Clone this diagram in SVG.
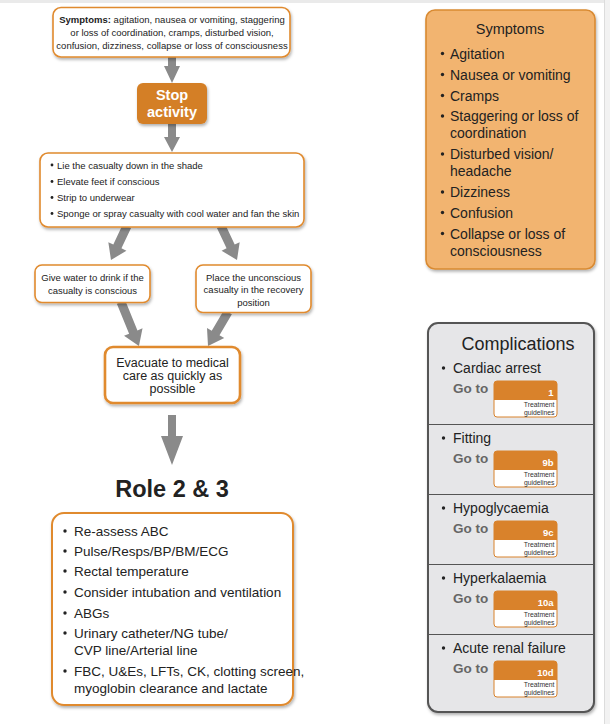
<svg xmlns="http://www.w3.org/2000/svg" width="610" height="724" viewBox="0 0 610 724">
<defs>
<style>
text{font-family:"Liberation Sans",Arial,sans-serif;fill:#222}
.box{fill:#fff;stroke:#e08a2e;stroke-width:1.6}
.s9{font-size:9.5px}
.mid{text-anchor:middle}
.arr{fill:#8a8a8a}
.b14{font-size:14px}
.go{font-size:13.5px;font-weight:bold;fill:#666}
.num{font-size:9.5px;font-weight:bold;fill:#fff;text-anchor:end}
.tg{font-size:6.8px;text-anchor:end;fill:#333}
.div{stroke:#555;stroke-width:1.2}
</style>
<filter id="sh" x="-10%" y="-10%" width="120%" height="130%">
<feDropShadow dx="1" dy="2" stdDeviation="1.5" flood-color="#000" flood-opacity="0.3"/>
</filter>
<g id="badge">
<rect x="494" y="381" width="63" height="36" rx="3" fill="#fff" stroke="#d9822b" stroke-width="1"/>
<path d="M494,400 V384 a3,3 0 0 1 3,-3 H554 a3,3 0 0 1 3,3 V400 Z" fill="#d9822b"/>
<text class="tg" x="554.5" y="407">Treatment</text>
<text class="tg" x="554.5" y="414.5">guidelines</text>
</g>
</defs>
<rect width="610" height="724" fill="#fff"/>
<rect x="0" y="0" width="610" height="3" fill="#eaeaea"/>
<rect x="604" y="0" width="6" height="724" fill="#f2f2f2"/>
<line x1="604.5" y1="0" x2="604.5" y2="724" stroke="#dcdcdc"/>

<g id="connectors">
<polygon class="arr" points="168,57 176,57 176,66 180,66 172,83 164,66 168,66"/>
<polygon class="arr" points="168,124 176,124 176,137 180,137 172,152 164,137 168,137"/>
<polygon class="arr" points="-4.5,0 4.5,0 4.5,22.6 10,22.6 0,37.6 -10,22.6 -4.5,22.6" transform="translate(127,226) rotate(25.2)"/>
<polygon class="arr" points="-4.5,0 4.5,0 4.5,22.6 10,22.6 0,37.6 -10,22.6 -4.5,22.6" transform="translate(221,226) rotate(-25.2)"/>
<polygon class="arr" points="-4.5,0 4.5,0 4.5,32.5 10,32.5 0,47.5 -10,32.5 -4.5,32.5" transform="translate(121,302) rotate(-22.2)"/>
<polygon class="arr" points="-4.5,0 4.5,0 4.5,24.4 10,24.4 0,39.4 -10,24.4 -4.5,24.4" transform="translate(228,312) rotate(30.5)"/>
<polygon class="arr" points="168,415 176,415 176,436 183,436 172,465 161,436 168,436"/>
</g>

<g id="symptoms-top">
<rect class="box" x="53" y="7.5" width="237" height="49.5" rx="8" filter="url(#sh)"/>
<text class="s9 mid" x="172" y="22.5"><tspan font-weight="bold">Symptoms:</tspan> agitation, nausea or vomiting, staggering</text>
<text class="s9 mid" x="172" y="36">or loss of coordination, cramps, disturbed vision,</text>
<text class="s9 mid" x="172" y="49">confusion, dizziness, collapse or loss of consciousness</text>
</g>

<g id="stop">
<rect x="137" y="83" width="70" height="41" rx="6" fill="#d47f25" filter="url(#sh)"/>
<text class="mid" x="172" y="100" font-size="14.5" font-weight="bold" style="fill:#fff">Stop</text>
<text class="mid" x="172" y="117" font-size="14.5" font-weight="bold" style="fill:#fff">activity</text>
</g>

<g id="first-aid">
<rect class="box" x="40" y="153" width="264" height="74" rx="8" filter="url(#sh)"/>
<g fill="#222">
<circle cx="52" cy="165" r="1.4"/><circle cx="52" cy="181.5" r="1.4"/><circle cx="52" cy="197.5" r="1.4"/><circle cx="52" cy="213.5" r="1.4"/>
</g>
<text class="s9" x="57" y="168.5">Lie the casualty down in the shade</text>
<text class="s9" x="57" y="185">Elevate feet if conscious</text>
<text class="s9" x="57" y="201">Strip to underwear</text>
<text class="s9" x="57" y="217">Sponge or spray casualty with cool water and fan the skin</text>
</g>

<g id="give-water">
<rect class="box" x="35" y="265" width="115" height="37.5" rx="7" filter="url(#sh)"/>
<text class="s9 mid" x="92.5" y="281">Give water to drink if the</text>
<text class="s9 mid" x="92.5" y="294">casualty is conscious</text>
</g>

<g id="recovery">
<rect class="box" x="196" y="265" width="115" height="47.5" rx="7" filter="url(#sh)"/>
<text class="s9 mid" x="253.5" y="280.5">Place the unconscious</text>
<text class="s9 mid" x="253.5" y="293">casualty in the recovery</text>
<text class="s9 mid" x="253.5" y="305.5">position</text>
</g>

<g id="evacuate">
<rect x="105" y="347" width="135" height="56" rx="8" fill="#fff" stroke="#e08a2e" stroke-width="2.6" filter="url(#sh)"/>
<text class="mid" x="172.5" y="366.5" font-size="12.5">Evacuate to medical</text>
<text class="mid" x="172.5" y="380" font-size="12.5">care as quickly as</text>
<text class="mid" x="172.5" y="393" font-size="12.5">possible</text>
</g>

<g id="role">
<text class="mid" x="172" y="497" font-size="23.5" font-weight="bold">Role 2 &amp; 3</text>
<rect x="52" y="513" width="241" height="192" rx="12" fill="#fff" stroke="#e08a2e" stroke-width="2" filter="url(#sh)"/>
<g fill="#222">
<circle cx="65" cy="531" r="1.7"/><circle cx="65" cy="551" r="1.7"/><circle cx="65" cy="571" r="1.7"/><circle cx="65" cy="592" r="1.7"/><circle cx="65" cy="613" r="1.7"/><circle cx="65" cy="633" r="1.7"/><circle cx="65" cy="671" r="1.7"/>
</g>
<text x="74" y="535.5" font-size="13.5">Re-assess ABC</text>
<text x="74" y="555.5" font-size="13.5">Pulse/Resps/BP/BM/ECG</text>
<text x="74" y="575.5" font-size="13.5">Rectal temperature</text>
<text x="74" y="596.5" font-size="13.5">Consider intubation and ventilation</text>
<text x="74" y="617.5" font-size="13.5">ABGs</text>
<text x="74" y="637.5" font-size="13.5">Urinary catheter/NG tube/</text>
<text x="74" y="654.5" font-size="13.5">CVP line/Arterial line</text>
<text x="74" y="675.5" font-size="13.5">FBC, U&amp;Es, LFTs, CK, clotting screen,</text>
<text x="74" y="692.5" font-size="13.5">myoglobin clearance and lactate</text>
</g>

<g id="symptoms-list">
<rect x="426" y="10" width="169" height="259" rx="9" fill="#f2b46f" stroke="#d98a32" stroke-width="1.6" filter="url(#sh)"/>
<text class="mid" x="510" y="34" font-size="14.5">Symptoms</text>
<g fill="#222">
<circle cx="442.5" cy="53.5" r="1.7"/><circle cx="442.5" cy="74.5" r="1.7"/><circle cx="442.5" cy="95.5" r="1.7"/><circle cx="442.5" cy="116" r="1.7"/><circle cx="442.5" cy="154" r="1.7"/><circle cx="442.5" cy="192" r="1.7"/><circle cx="442.5" cy="212.5" r="1.7"/><circle cx="442.5" cy="233.5" r="1.7"/>
</g>
<text class="b14" x="450" y="58.5">Agitation</text>
<text class="b14" x="450" y="79.5">Nausea or vomiting</text>
<text class="b14" x="450" y="100.5">Cramps</text>
<text class="b14" x="450" y="121">Staggering or loss of</text>
<text class="b14" x="450" y="138">coordination</text>
<text class="b14" x="450" y="159">Disturbed vision/</text>
<text class="b14" x="450" y="176">headache</text>
<text class="b14" x="450" y="197">Dizziness</text>
<text class="b14" x="450" y="217.5">Confusion</text>
<text class="b14" x="450" y="238.5">Collapse or loss of</text>
<text class="b14" x="450" y="255.5">consciousness</text>
</g>

<g id="complications">
<rect x="428" y="323" width="166" height="389" rx="10" fill="#e6e6e8" stroke="#555" stroke-width="2" filter="url(#sh)"/>
<text class="mid" x="518" y="349.5" font-size="18">Complications</text>
<line class="div" x1="429" y1="424.5" x2="593" y2="424.5"/>
<line class="div" x1="429" y1="494.5" x2="593" y2="494.5"/>
<line class="div" x1="429" y1="564.5" x2="593" y2="564.5"/>
<line class="div" x1="429" y1="634.5" x2="593" y2="634.5"/>
<g id="comp-cardiac">
<circle cx="443.5" cy="368" r="1.7" fill="#222"/>
<text class="b14" x="453" y="373">Cardiac arrest</text>
<text class="go" x="453" y="393">Go to</text>
<use href="#badge"/>
<text class="num" x="553.5" y="396">1</text>
</g>
<g id="comp-fitting" transform="translate(0,70)">
<circle cx="443.5" cy="368" r="1.7" fill="#222"/>
<text class="b14" x="453" y="373">Fitting</text>
<text class="go" x="453" y="393">Go to</text>
<use href="#badge"/>
<text class="num" x="553.5" y="396">9b</text>
</g>
<g id="comp-hypo" transform="translate(0,140)">
<circle cx="443.5" cy="368" r="1.7" fill="#222"/>
<text class="b14" x="453" y="373">Hypoglycaemia</text>
<text class="go" x="453" y="393">Go to</text>
<use href="#badge"/>
<text class="num" x="553.5" y="396">9c</text>
</g>
<g id="comp-hyper" transform="translate(0,210)">
<circle cx="443.5" cy="368" r="1.7" fill="#222"/>
<text class="b14" x="453" y="373">Hyperkalaemia</text>
<text class="go" x="453" y="393">Go to</text>
<use href="#badge"/>
<text class="num" x="553.5" y="396">10a</text>
</g>
<g id="comp-renal" transform="translate(0,280)">
<circle cx="443.5" cy="368" r="1.7" fill="#222"/>
<text class="b14" x="453" y="373">Acute renal failure</text>
<text class="go" x="453" y="393">Go to</text>
<use href="#badge"/>
<text class="num" x="553.5" y="396">10d</text>
</g>
</g>
</svg>
